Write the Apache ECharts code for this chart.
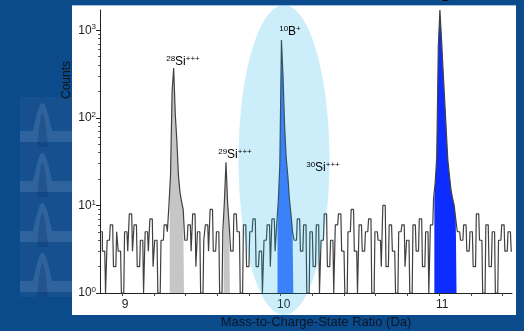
<!DOCTYPE html>
<html><head><meta charset="utf-8">
<script src="https://cdn.jsdelivr.net/npm/echarts@6/dist/echarts.min.js"></script>
<style>html,body{margin:0;padding:0;background:#0b4b8c}#c{width:524px;height:331px}</style>
</head><body><div id="c"></div>
<script>
// Histogram: bin centres start at 8.86 Da, bin width 0.01 Da
const binStart = 8.86;
const binWidth = 0.01;
const counts = [
  5,5,3,3,                       // 8.86-8.89
  1,4,4,6,6,2,2,5,3,3,           // 8.90
  1,1,5,5,3,8,8,3,6,6,           // 9.00
  2,2,4,4,1,5,5,3,7,7,           // 9.10
  2,4,4,1,1,4,4,6,6,5,           // 9.20
  10,22,200,370,110,55,22,14,11,9, // 9.30
  4,4,6,6,3,8,8,2,5,5,           // 9.40
  1,1,4,6,6,3,9,9,3,3,           // 9.50
  5,5,1,1,5,11,31,11,6,3,        // 9.60
  3,8,8,5,5,1,1,6,6,2,           // 9.70
  2,5,5,7,7,2,2,3,3,1,           // 9.80
  4,4,6,6,2,7,7,3,6,11,          // 9.90
  30,770,300,80,35,22,12,8,5,4,  // 10.00
  4,7,7,3,3,6,6,1,1,5,           // 10.10
  5,2,2,6,6,1,4,4,8,8,           // 10.20
  2,2,4,4,1,6,6,8,8,3,           // 10.30
  3,1,1,5,5,9,9,3,3,1,           // 10.40
  6,6,3,3,5,5,7,7,1,1,           // 10.50
  5,5,4,4,2,10,10,2,2,6,         // 10.60
  6,3,3,1,1,5,5,6,6,2,           // 10.70
  4,4,1,1,6,6,3,3,7,7,           // 10.80
  2,2,5,5,1,6,6,12,18,35,        // 10.90
  650,1700,800,350,160,72,33,22,15,12, // 11.00
  10,7,5,5,4,4,6,6,3,3,          // 11.10
  5,5,2,2,8,8,4,4,1,1,           // 11.20
  6,6,2,2,5,5,1,1,4,4,           // 11.30
  6,6,3,3,5,5,3                  // 11.40-11.46
];
// Shaded peak ranges (Da)
const peakRanges = [[9.30, 9.39], [9.64, 9.68], [9.98, 10.08], [10.97, 11.11]];
const peakFills = ['#c6c6c6', '#c6c6c6', '#4a78ff', '#0d2cff'];
// Axis ticks / labels
const xTickValues = [9, 9.2, 9.4, 9.6, 9.8, 10, 10.2, 10.4, 10.6, 10.8, 11, 11.2, 11.4];
const xLabelValues = [9, 10, 11];
const yLabelValues = [1, 10, 100, 1000];
const yMinorTicks = [2,3,4,5,6,7,8,9,20,30,40,50,60,70,80,90,200,300,400,500,600,700,800,900];
// Peak annotations: [iso, element, charge]
const peakNames = [['28','Si','+++'], ['29','Si','+++'], ['10','B','+'], ['30','Si','+++'], ['11','B','+']];

const FONT = 'Liberation Sans, Arial, sans-serif';
const pts = counts.map((c, i) => [Math.round((binStart + i * binWidth) * 100) / 100, c]);

const fillSeries = peakRanges.map((r, k) => ({
  type: 'line', step: 'middle', symbol: 'none', z: 1, silent: true,
  data: pts.filter(p => p[0] >= r[0] - 1e-6 && p[0] <= r[1] + 1e-6),
  lineStyle: { width: 0 },
  areaStyle: { color: peakFills[k], opacity: 1, origin: 1 }
}));

const rich = {
  s: { fontSize: 8, fontFamily: FONT, color: '#222', padding: [0, 0, 6, 0] },
  n: { fontSize: 12, fontFamily: FONT, color: '#222' }
};
function labelText(p) { return '{s|' + p[0] + '}{n|' + p[1] + '}{s|' + p[2] + '}'; }
const labelPos = [[183, 62], [235, 155], [290, 32], [323, 168], [444, -2]];

// decorative arch tile outline
function archPts(x0, y0, w, h, top) {
  const out = [[x0, y0 + h]];
  for (let t = 0; t <= 20; t++) {
    const a = t / 20;
    out.push([x0 + a * w, y0 + h - (h - top) * Math.sin(Math.PI * a)]);
  }
  out.push([x0 + w, y0 + h]);
  return out;
}

const graphics = [];
graphics.push({ type: 'rect', z: -20, shape: { x: 72, y: 5, width: 444, height: 310 }, style: { fill: '#ffffff' } });
graphics.push({ type: 'line', z: -19, shape: { x1: 72, y1: 5.5, x2: 516, y2: 5.5 }, style: { stroke: '#9cc3e6', lineWidth: 1 } });
for (let i = 0; i < 4; i++) {
  const y = 97 + i * 50;
  graphics.push({ type: 'rect', z: -20, shape: { x: 20, y: y, width: 52, height: 50 }, style: { fill: '#16508e' } });
  graphics.push({ type: 'rect', z: -19, shape: { x: 20, y: y + 34, width: 52, height: 11 }, style: { fill: 'rgba(130,170,215,0.22)' } });
  graphics.push({ type: 'polygon', z: -19, shape: { points: archPts(33, y, 19, 34, 6) }, style: { fill: 'rgba(130,170,215,0.22)' } });
  graphics.push({ type: 'polygon', z: -18, shape: { points: archPts(37, y + 4, 11, 46, 12) }, style: { fill: 'rgba(10,50,110,0.3)' } });
}
graphics.push({ type: 'ellipse', z: 50, silent: true, shape: { cx: 284, cy: 160, rx: 45.5, ry: 155 }, style: { fill: 'rgba(0,170,230,0.2)' } });
peakNames.forEach((p, i) => {
  graphics.push({ type: 'text', z: 60, x: labelPos[i][0], y: labelPos[i][1],
    style: { text: labelText(p), rich: rich, align: 'center', verticalAlign: 'middle' } });
});
graphics.push({ type: 'text', z: 60, x: 67, y: 80, rotation: Math.PI / 2,
  style: { text: 'Counts', fontSize: 12, fontFamily: FONT, fill: '#111', align: 'center', verticalAlign: 'middle' } });

const chart = echarts.init(document.getElementById('c'), null, { renderer: 'canvas' });
chart.setOption({
  backgroundColor: '#0b4b8c',
  animation: false,
  grid: { left: 100, right: 12, top: 10, bottom: 38, containLabel: false, outerBoundsMode: 'none' },
  xAxis: {
    type: 'value', min: 8.86, max: 11.46,
    name: 'Mass-to-Charge-State Ratio (Da)', nameLocation: 'middle', nameGap: 23,
    nameTextStyle: { color: '#0a1526', fontSize: 13, fontFamily: FONT, padding: [0, 0, 0, 20] },
    axisLine: { lineStyle: { color: '#222', width: 1 } },
    axisTick: { customValues: xTickValues, length: 3, lineStyle: { color: '#444' } },
    axisLabel: { customValues: xLabelValues, color: '#222', fontSize: 12, fontFamily: FONT, margin: 6, padding: [0, 0, 0, 6] },
    splitLine: { show: false }
  },
  yAxis: [{
    type: 'log', logBase: 10, min: 1, max: 1700,
    axisLine: { show: true, lineStyle: { color: '#222', width: 1 } },
    axisTick: { customValues: yMinorTicks, length: 2, lineStyle: { color: '#555' } },
    axisLabel: { customValues: yLabelValues, margin: 4,
      formatter: v => '{b|10}{e|' + Math.round(Math.log10(v)) + '}',
      rich: { b: { fontSize: 12, fontFamily: FONT, color: '#222' }, e: { fontSize: 8, fontFamily: FONT, color: '#222', padding: [0, 0, 6, 0] } } },
    splitLine: { show: false }
  }, {
    type: 'log', logBase: 10, min: 1, max: 1700, position: 'left',
    axisLine: { show: false },
    axisTick: { customValues: yLabelValues, length: 4, lineStyle: { color: '#222' } },
    axisLabel: { show: false },
    splitLine: { show: false }
  }],
  series: fillSeries.concat([{
    type: 'line', step: 'middle', symbol: 'none', z: 3, silent: true,
    data: pts,
    lineStyle: { color: '#404040', width: 1.2 }
  }]),
  graphic: graphics
});
</script></body></html>
